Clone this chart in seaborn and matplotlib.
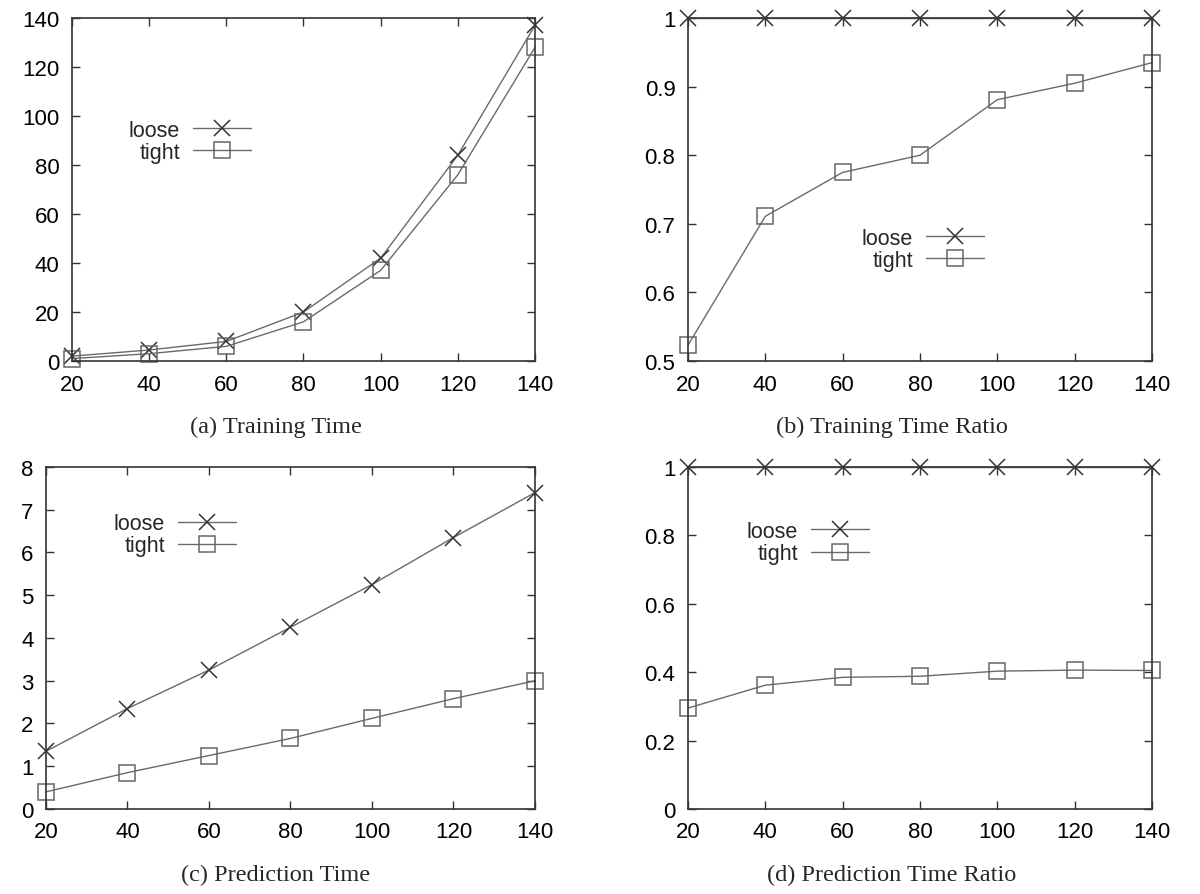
import numpy as np
import pandas as pd
import matplotlib
matplotlib.use('Agg')
import matplotlib.pyplot as plt
import seaborn as sns

# data
sizes = [20, 40, 60, 80, 100, 120, 140]

train_loose = [2, 4.5, 8, 20, 42, 84, 137]
train_tight = [1, 3, 6, 16, 37, 76, 128]

train_ratio_loose = [1, 1, 1, 1, 1, 1, 1]
train_ratio_tight = [0.523, 0.711, 0.775, 0.800, 0.881, 0.905, 0.935]

pred_loose = [1.35, 2.35, 3.25, 4.25, 5.25, 6.35, 7.4]
pred_tight = [0.40, 0.85, 1.25, 1.65, 2.12, 2.58, 3.0]

pred_ratio_loose = [1, 1, 1, 1, 1, 1, 1]
pred_ratio_tight = [0.295, 0.362, 0.385, 0.388, 0.403, 0.406, 0.405]

captions = ['(a) Training Time', '(b) Training Time Ratio',
            '(c) Prediction Time', '(d) Prediction Time Ratio']

sns.set_style('ticks')
plt.rcParams['font.family'] = ['Liberation Sans', 'DejaVu Sans']
plt.rcParams['axes.edgecolor'] = '#333333'
plt.rcParams['axes.linewidth'] = 1.2

line_col = '#6a6a6a'

fig = plt.figure(figsize=(12, 8.95), dpi=100)

# [left, bottom, width, height], y-range, yticks, legend anchor, caption pos
panels = [
    dict(rect=[0.060, 0.5955, 0.3858, 0.3832], ylim=(0, 140), yticks=np.arange(0, 141, 20),
         loose=train_loose, tight=train_tight, leg=(0.387, 0.703), cap=(0.230, 0.5229)),
    dict(rect=[0.5733, 0.5955, 0.3867, 0.3832], ylim=(0.5, 1), yticks=[0.5, 0.6, 0.7, 0.8, 0.9, 1],
         loose=train_ratio_loose, tight=train_ratio_tight, leg=(0.638, 0.388), cap=(0.743, 0.5229)),
    dict(rect=[0.0383, 0.095, 0.4075, 0.3821], ylim=(0, 8), yticks=np.arange(0, 9, 1),
         loose=pred_loose, tight=pred_tight, leg=(0.389, 0.865), cap=(0.230, 0.0223)),
    dict(rect=[0.5733, 0.095, 0.3867, 0.3821], ylim=(0, 1), yticks=[0, 0.2, 0.4, 0.6, 0.8, 1],
         loose=pred_ratio_loose, tight=pred_ratio_tight, leg=(0.39, 0.842), cap=(0.743, 0.0223)),
]

for p, cap in zip(panels, captions):
    ax = fig.add_axes(p['rect'])
    df = pd.DataFrame({'n': sizes, 'loose': p['loose'], 'tight': p['tight']})
    sns.lineplot(data=df, x='n', y='loose', ax=ax, color=line_col, lw=1.0,
                 marker='x', markersize=11, markeredgewidth=1.1,
                 markeredgecolor='#333333', label='loose', clip_on=False)
    sns.lineplot(data=df, x='n', y='tight', ax=ax, color=line_col, lw=1.0,
                 marker='s', markersize=12, markerfacecolor='none', markeredgewidth=1.1,
                 markeredgecolor='#666666', label='tight', clip_on=False)
    ax.set_xlim(20, 140)
    ax.set_ylim(*p['ylim'])
    ax.set_xticks(sizes)
    ax.set_yticks(p['yticks'])
    ax.set_yticklabels(['%g' % v for v in p['yticks']])
    ax.set_xlabel('')
    ax.set_ylabel('')
    ax.tick_params(direction='in', top=True, right=True, length=6, width=1,
                   labelsize=16, colors='#333333', labelcolor='black', pad=9)
    for s in ax.spines.values():
        s.set_visible(True)
    ax.legend(loc='upper right', bbox_to_anchor=p['leg'], frameon=False,
              markerfirst=False, fontsize=15.5, handlelength=2.7, handletextpad=0.6,
              borderpad=0, labelspacing=0.05, borderaxespad=0)
    fig.text(p['cap'][0], p['cap'][1], cap, ha='center', va='center',
             fontsize=17.5, family=['Liberation Serif', 'DejaVu Serif'])

fig.savefig('out.png', dpi=100, facecolor='white')
